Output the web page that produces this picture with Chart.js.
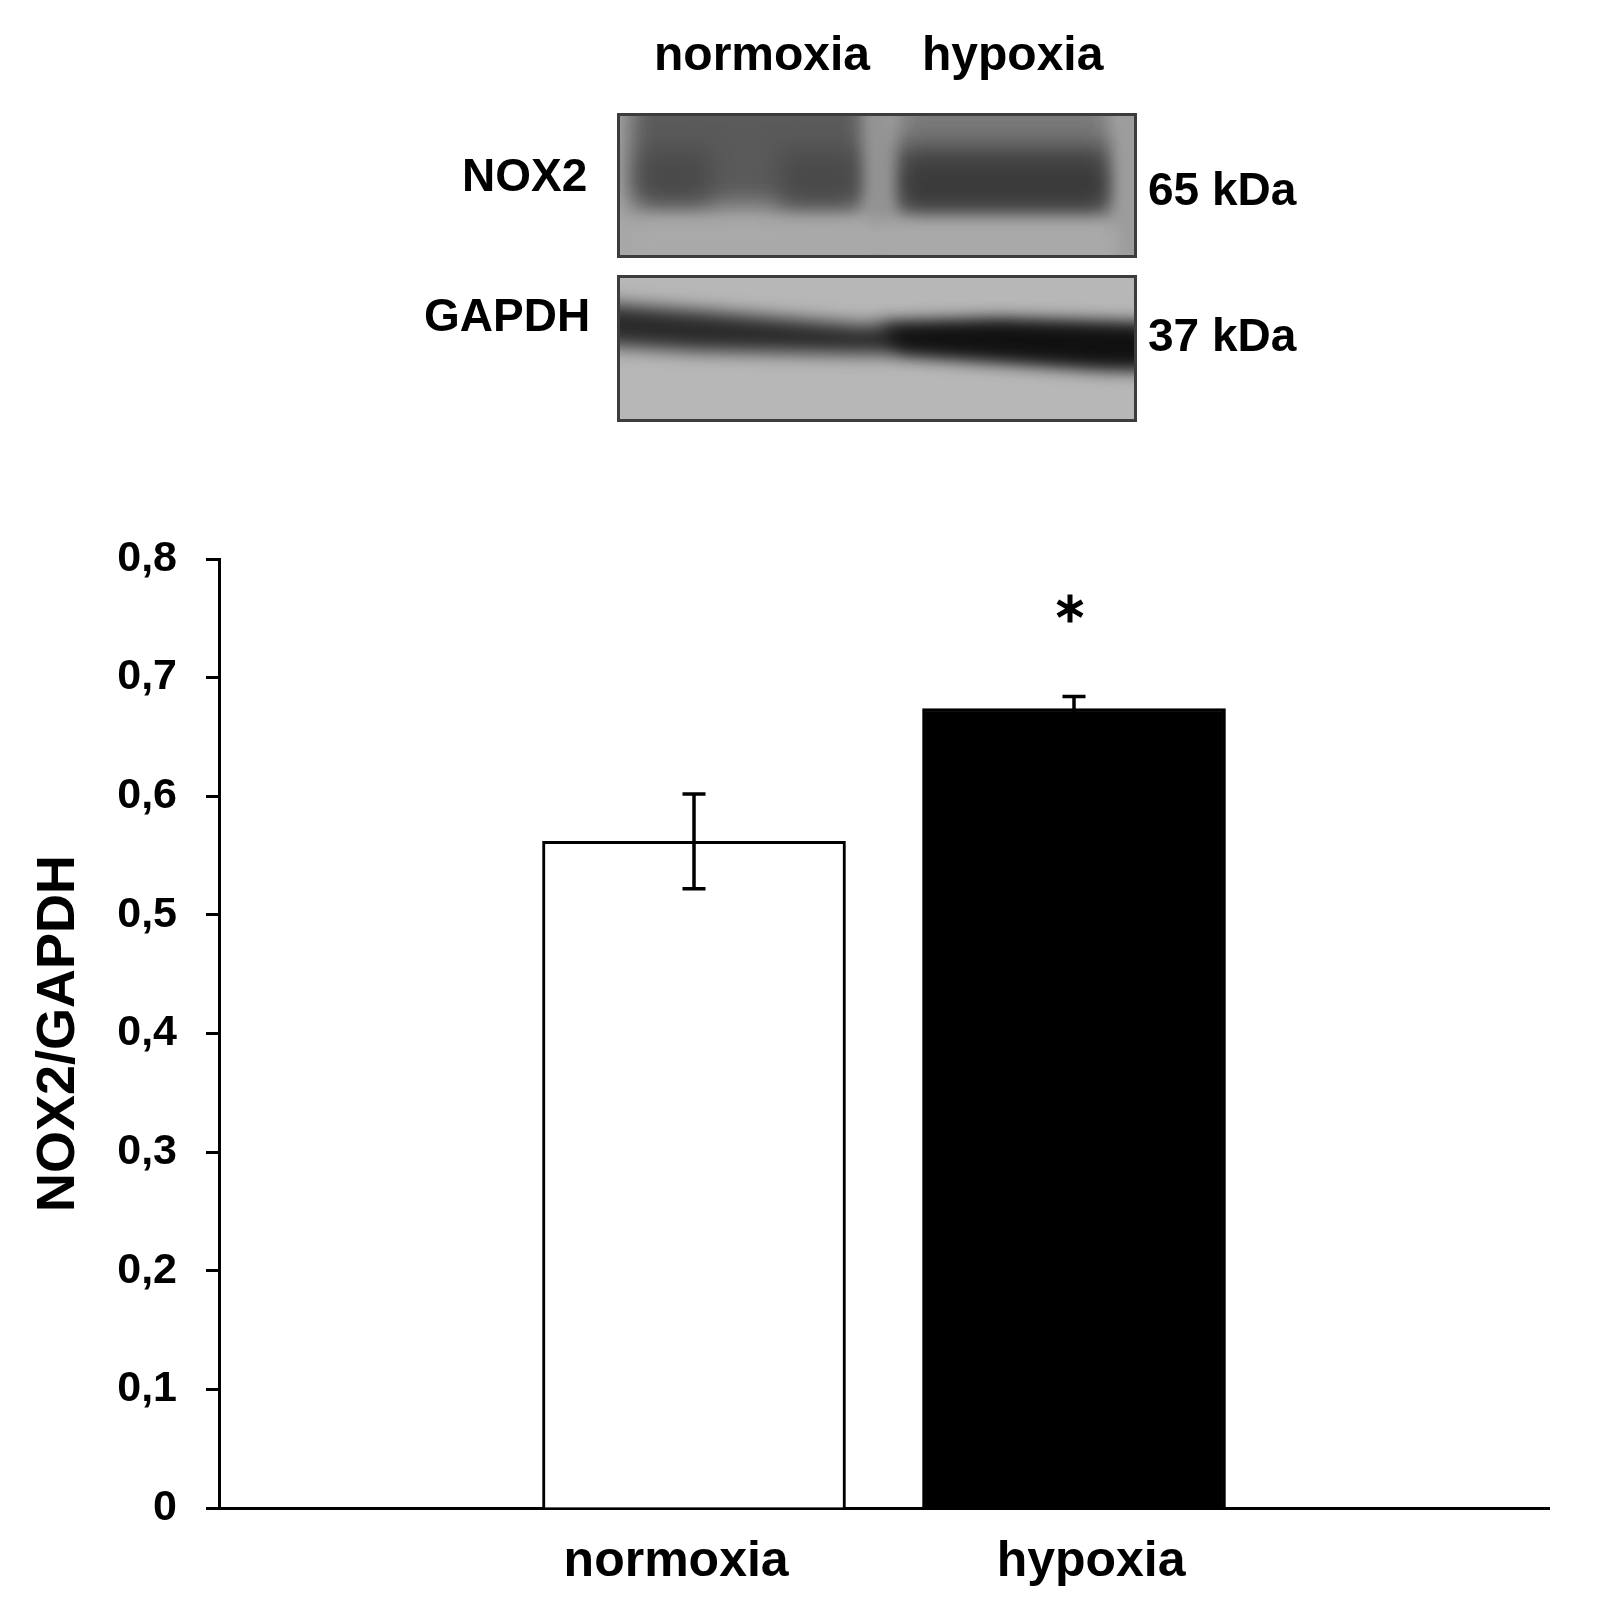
<!DOCTYPE html>
<html>
<head>
<meta charset="utf-8">
<script src="https://cdn.jsdelivr.net/npm/chart.js@4"></script>
<style>
  body { margin: 0; background: #fff; }
  #page { position: relative; width: 1601px; height: 1610px; font-family: "Liberation Sans", Arial, sans-serif; font-weight: bold; color: #000; }
  .lbl { position: absolute; font-size: 46px; line-height: 1; white-space: nowrap; }
  .lane { font-size: 48px; }
  #blot { position: absolute; left: 0; top: 0; }
  #chartBox { position: absolute; left: 0; top: 480px; width: 1601px; height: 1130px; }
</style>
</head>
<body>
<div id="page">
  <canvas id="blot" width="1601" height="440"></canvas>
  <div class="lbl lane" style="left:654px;top:30px">normoxia</div>
  <div class="lbl lane" style="left:922px;top:30px">hypoxia</div>
  <div class="lbl" style="left:462px;top:152px">NOX2</div>
  <div class="lbl" style="left:424px;top:292px">GAPDH</div>
  <div class="lbl" style="left:1148px;top:166px">65 kDa</div>
  <div class="lbl" style="left:1148px;top:312px">37 kDa</div>
  <div id="chartBox"><canvas id="chart"></canvas></div>
</div>
<script>
const categories = ['normoxia', 'hypoxia'];
const means = [0.562, 0.674];
const sems = [0.040, 0.010];
const marks = ['', '*'];
const yTickLabels = ['0', '0,1', '0,2', '0,3', '0,4', '0,5', '0,6', '0,7', '0,8'];
const barColors = ['#ffffff', '#000000'];

const FONT = '"Liberation Sans", Arial, sans-serif';

// western blot picture (decoration only)
function panel(g, x, y, w, h, bg, draw) {
    g.save();
    g.beginPath();
    g.rect(x, y, w, h);
    g.clip();
    g.fillStyle = bg;
    g.fillRect(x, y, w, h);
    draw(g);
    g.restore();
    g.strokeStyle = '#3c3c3c';
    g.lineWidth = 3;
    g.strokeRect(x + 1.5, y + 1.5, w - 3, h - 3);
}

function poly(g, pts, color) {
    g.fillStyle = color;
    g.beginPath();
    pts.forEach((p, i) => i ? g.lineTo(p[0], p[1]) : g.moveTo(p[0], p[1]));
    g.closePath();
    g.fill();
}

function drawBlot() {
    const g = document.getElementById('blot').getContext('2d');

    panel(g, 617, 113, 520, 145, '#a8a8a8', g => {
        g.filter = 'blur(12px)';
        g.fillStyle = '#5a5a5a';
        g.fillRect(630, 95, 236, 110);
        g.fillStyle = '#4a4a4a';
        g.fillRect(640, 150, 70, 52);
        g.fillRect(780, 150, 80, 56);
        g.fillStyle = '#7a7a7a';
        g.fillRect(898, 95, 212, 55);
        g.fillStyle = '#474747';
        g.fillRect(894, 142, 218, 72);
        g.fillStyle = '#3a3a3a';
        g.fillRect(905, 165, 200, 40);
        g.filter = 'blur(8px)';
        g.fillStyle = '#939393';
        g.fillRect(868, 95, 22, 175);
        g.fillStyle = '#9c9c9c';
        g.fillRect(1118, 95, 30, 175);
        g.fillStyle = '#a9a9a9';
        g.fillRect(640, 222, 470, 40);
        g.filter = 'none';
    });

    panel(g, 617, 275, 520, 147, '#b7b7b7', g => {
        g.filter = 'blur(9px)';
        poly(g, [[600, 303], [700, 311], [860, 325], [1000, 321], [1150, 325],
                 [1150, 370], [1100, 368], [900, 354], [860, 354], [700, 351], [600, 345]], '#2a2a2a');
        poly(g, [[880, 326], [1000, 323], [1150, 328], [1150, 364], [1100, 364], [900, 350]], '#101010');
        g.filter = 'none';
    });
}
drawBlot();

const errorBars = {
    id: 'errorBars',
    afterDatasetsDraw(chart) {
        const { ctx, scales: { y } } = chart;
        const meta = chart.getDatasetMeta(0);
        ctx.save();
        ctx.strokeStyle = '#000';
        ctx.lineWidth = 3.5;
        meta.data.forEach((bar, i) => {
            const top = y.getPixelForValue(means[i] + sems[i]);
            const bot = y.getPixelForValue(means[i] - sems[i]);
            const cap = 11.5;
            ctx.beginPath();
            ctx.moveTo(bar.x, top); ctx.lineTo(bar.x, bot);
            ctx.moveTo(bar.x - cap, top); ctx.lineTo(bar.x + cap, top);
            ctx.moveTo(bar.x - cap, bot); ctx.lineTo(bar.x + cap, bot);
            ctx.stroke();
            if (marks[i]) {
                // significance asterisk, six arms
                const cx = bar.x - 4, cy = top - 88, r = 14;
                ctx.lineWidth = 5;
                ctx.beginPath();
                for (let k = 0; k < 3; k++) {
                    const a = Math.PI / 2 + k * Math.PI / 3;
                    ctx.moveTo(cx + r * Math.cos(a), cy + r * Math.sin(a));
                    ctx.lineTo(cx - r * Math.cos(a), cy - r * Math.sin(a));
                }
                ctx.stroke();
                ctx.lineWidth = 3.5;
            }
        });
        ctx.restore();
    }
};

new Chart(document.getElementById('chart').getContext('2d'), {
    type: 'bar',
    data: {
        datasets: [{
            data: categories.map((c, i) => ({ x: i, y: means[i] })),
            backgroundColor: barColors,
            borderColor: '#000',
            borderWidth: 3,
            barThickness: 303
        }]
    },
    options: {
        responsive: true,
        maintainAspectRatio: false,
        animation: false,
        layout: { padding: { top: 79, right: 52, bottom: 0, left: 0 } },
        plugins: { legend: { display: false }, tooltip: { enabled: false } },
        scales: {
            x: {
                type: 'linear',
                min: -1.25,
                max: 2.25,
                offset: false,
                afterBuildTicks: s => { s.ticks = [{ value: -0.047 }, { value: 1.045 }]; },
                afterFit: s => { s.height = 102; },
                ticks: {
                    callback: (v, i) => categories[i],
                    autoSkip: false,
                    maxRotation: 0,
                    padding: 24,
                    color: '#000',
                    font: { family: FONT, size: 50, weight: 'bold' }
                },
                grid: { drawOnChartArea: false, drawTicks: false, color: 'transparent' },
                border: { display: true, color: '#000', width: 3 }
            },
            y: {
                min: 0,
                max: 0.8,
                afterFit: s => { s.width = 219; },
                ticks: {
                    stepSize: 0.1,
                    callback: (v, i) => yTickLabels[i],
                    padding: 29,
                    color: '#000',
                    font: { family: FONT, size: 43, weight: 'bold' }
                },
                grid: { drawOnChartArea: false, tickLength: 13, tickWidth: 3, tickColor: '#000', color: '#000' },
                border: { color: '#000', width: 3 },
                title: {
                    display: true,
                    text: 'NOX2/GAPDH',
                    color: '#000',
                    padding: { top: 27, bottom: 0 },
                    font: { family: FONT, size: 54, weight: 'bold' }
                }
            }
        }
    },
    plugins: [errorBars]
});
</script>
</body>
</html>
